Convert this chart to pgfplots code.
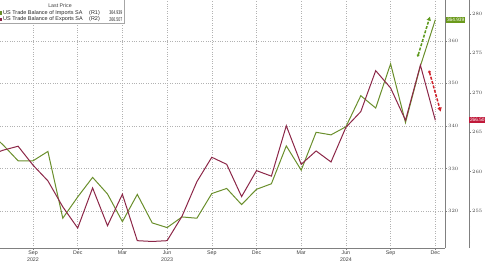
\documentclass[border=0pt]{standalone}
\usepackage{fontspec}
\setmainfont{Liberation Sans}
\usepackage{graphicx}
\usepackage{pgfplots}
\pgfplotsset{compat=1.18}
\usetikzlibrary{arrows.meta}
\definecolor{impG}{HTML}{6A8F2C}
\definecolor{expR}{HTML}{8C2748}
\definecolor{boxG}{HTML}{6B9A1C}
\definecolor{boxR}{HTML}{C0193A}
\definecolor{arrG}{HTML}{5F9A1F}
\definecolor{arrR}{HTML}{D0202A}
\definecolor{axc}{HTML}{808080}

\pgfplotstableread{
m v
-3 338.8
-2 335.5
-1 331.8
0 331.8
1 334.0
2 318.3
3 323.3
4 327.9
5 324.0
6 317.5
7 323.9
8 317.2
9 316.1
10 318.6
11 318.3
12 324.1
13 325.3
14 321.5
15 325.1
16 326.4
17 335.3
18 329.6
19 338.5
20 337.9
21 339.8
22 347.1
23 344.2
24 354.6
25 340.8
26 354.1
27 364.939
}\imports

\pgfplotstableread{
m v
-3 262.0
-2 262.7
-1 263.2
0 260.8
1 258.8
2 255.5
3 252.8
4 257.9
5 253.1
6 257.1
7 251.2
8 251.1
9 251.2
10 254.3
11 258.7
12 261.8
13 260.9
14 256.8
15 260.1
16 259.4
17 265.8
18 260.9
19 262.6
20 261.2
21 265.6
22 267.6
23 272.8
24 270.6
25 266.5
26 273.5
27 266.507
}\exports

\begin{document}
\begin{tikzpicture}
\begin{axis}[
  scale only axis, width=445bp, height=248bp,
  xmin=-2.2148, xmax=27.651,
  ymin=311.3, ymax=369.6,
  axis x line*=bottom, axis y line*=right,
  axis line style={axc, line width=0.5bp, -},
  xtick={0,3,...,27},
  xticklabels={{Sep\\2022},Dec,Mar,{Jun\\2023},Sep,Dec,Mar,{Jun\\2024},Sep,Dec},
  xticklabel style={align=center, font=\fontsize{5.3}{6.2}\selectfont, text=black!75, inner sep=1bp},
  minor xtick={-2,...,27},
  ytick={320,330,...,360},
  minor ytick={315,325,...,365},
  yticklabel style={font=\fontsize{5.5}{6}\selectfont, text=black!75, inner sep=1bp},
  grid=major, grid style={dotted, gray!60, line width=0.5bp},
  tick style={axc, line width=0.4bp},
  major tick length=2bp, minor tick length=1.2bp,
  tick align=outside,
  clip mode=individual,
]
\addplot[impG, line width=1bp] table[x=m, y=v] {\imports};
\draw[arrG, line width=1.5bp, dash pattern=on 3bp off 1.5bp, {Circle[length=2.5bp]}-{Triangle[length=4bp,width=4bp]}]
  (axis cs:25.82,356.3) -- (axis cs:26.64,365.7);
\node[fill=boxG, text=white, font=\fontsize{4.8}{5}\selectfont, inner sep=0.8bp, anchor=west, minimum height=6bp]
  at (axis cs:27.72,364.939) {364.939};
\end{axis}
\begin{axis}[
  scale only axis, width=469bp, height=248bp,
  xmin=-2.2148, xmax=29.262,
  ymin=250.27, ymax=281.78,
  axis x line=none, axis y line*=right,
  axis line style={axc, line width=0.5bp, -},
  ytick={255,260,...,280},
  minor ytick={251,252,...,281},
  yticklabel style={font=\fontsize{5.5}{6}\selectfont, text=black!75, inner sep=1bp},
  tick style={axc, line width=0.4bp},
  major tick length=2bp, minor tick length=1bp,
  tick align=outside,
  clip mode=individual,
]
\addplot[expR, line width=1bp] table[x=m, y=v] {\exports};
\draw[arrR, line width=1.5bp, dash pattern=on 3bp off 1.5bp, {Circle[length=2.5bp]}-{Triangle[length=4bp,width=4bp]}]
  (axis cs:26.58,272.8) -- (axis cs:27.36,267.6);
\node[fill=boxR, text=white, font=\fontsize{4.8}{5}\selectfont, inner sep=0.8bp, anchor=west, minimum height=6bp]
  at (axis cs:29.262,266.507) {266.507};
\end{axis}
% legend box
\draw[gray!70, fill=white, line width=0.4bp] (-1bp,225bp) rectangle (124bp,249bp);
\node[font=\fontsize{5.3}{5}\selectfont, text=black!75] at (60bp,242bp) {Last Price};
\fill[impG] (0bp,233.3bp) rectangle (2.3bp,236.7bp);
\fill[expR] (0bp,226.8bp) rectangle (2.3bp,230.2bp);
\node[font=\fontsize{5.5}{5}\selectfont, anchor=west, inner sep=0pt, text=black!85] at (3bp,235bp) {US Trade Balance of Imports SA};
\node[font=\fontsize{5.5}{5}\selectfont, anchor=west, inner sep=0pt, text=black!85] at (3bp,228.5bp) {US Trade Balance of Exports SA};
\node[font=\fontsize{5.5}{5}\selectfont, anchor=west, inner sep=0pt, text=black!85] at (89bp,235bp) {(R1)};
\node[font=\fontsize{5.5}{5}\selectfont, anchor=west, inner sep=0pt, text=black!85] at (89bp,228.5bp) {(R2)};
\node[font=\fontsize{5.5}{5}\selectfont, anchor=east, inner sep=0pt, text=black!85] at (122.5bp,235bp) {\scalebox{0.65}[1]{364.939}};
\node[font=\fontsize{5.5}{5}\selectfont, anchor=east, inner sep=0pt, text=black!85] at (122.5bp,228.5bp) {\scalebox{0.65}[1]{266.507}};
\pgfresetboundingbox
\path[use as bounding box] (0bp,-15bp) rectangle (485bp,248bp);
\end{tikzpicture}
\end{document}
